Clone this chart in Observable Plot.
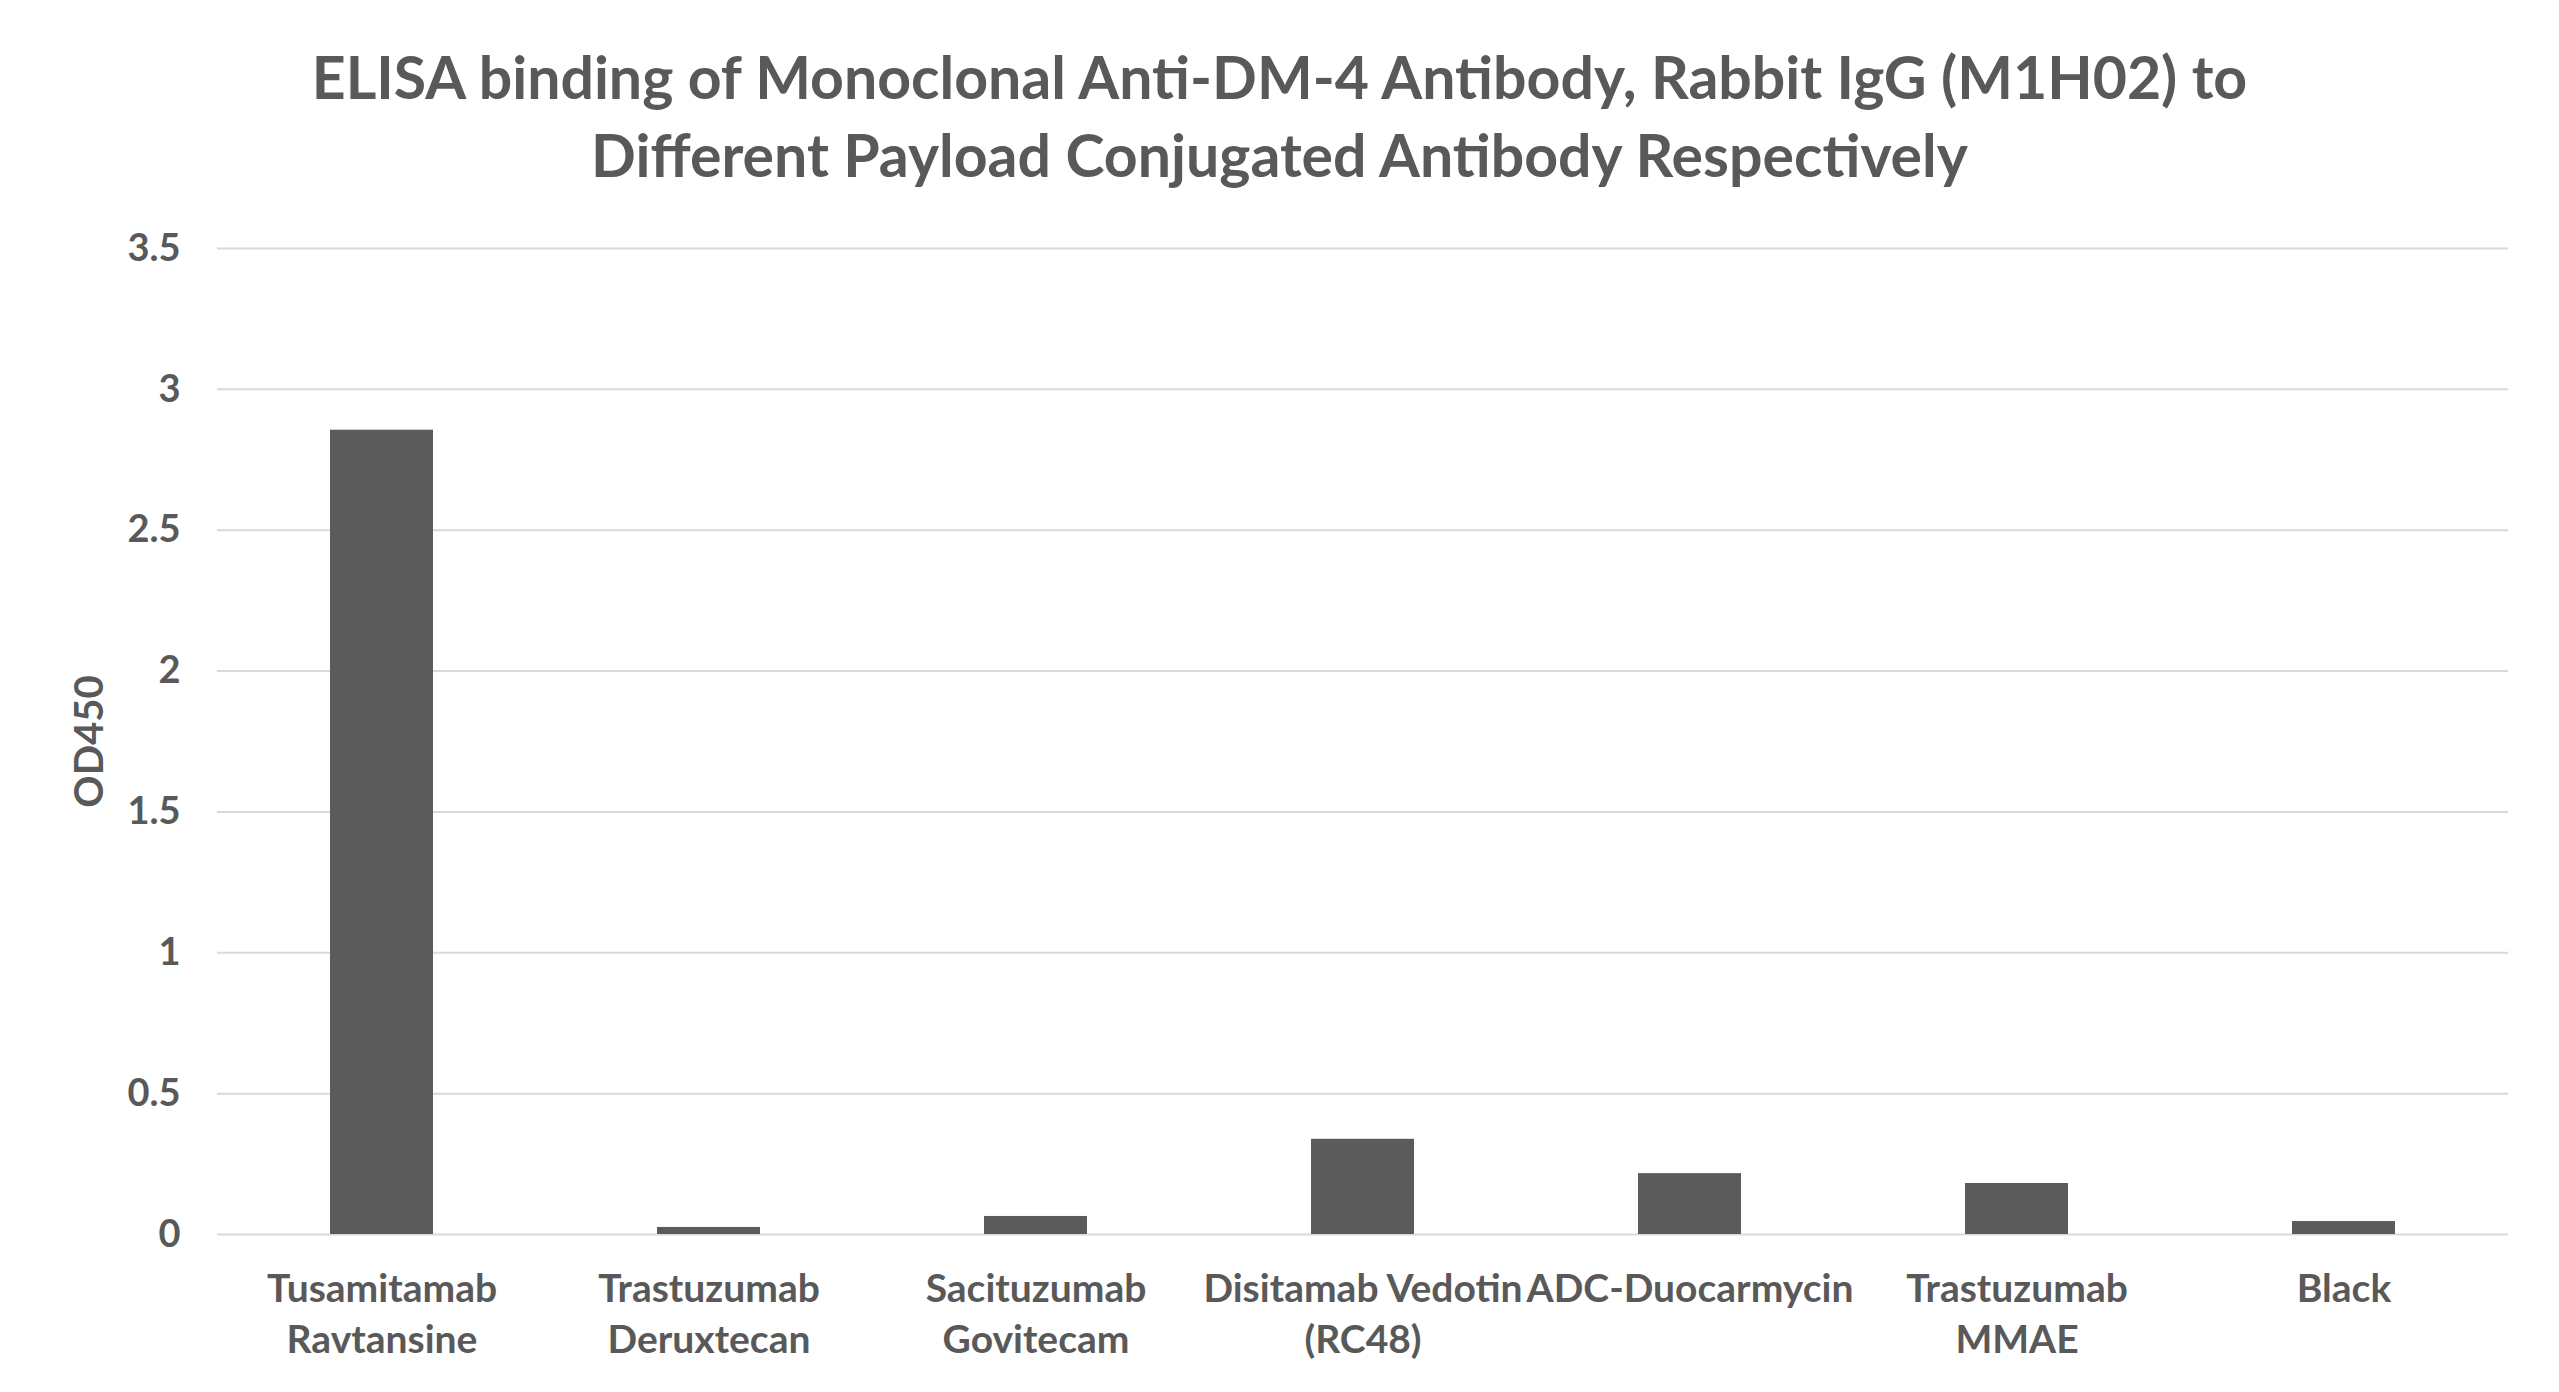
<!DOCTYPE html>
<html>
<head>
<meta charset="utf-8">
<script src="https://cdn.jsdelivr.net/npm/d3@7"></script>
<script src="https://cdn.jsdelivr.net/npm/@observablehq/plot@0.6"></script>
<style>
  html, body { margin: 0; padding: 0; background: #fff; }
  #chart { width: 2559px; }
  .title {
    font-family: Lato, "Open Sans", sans-serif;
    font-weight: 700;
    font-size: 59px;
    line-height: 78px;
    color: #595959;
    text-align: center;
    height: 200px;
    box-sizing: border-box;
    padding-top: 38px;
  }
  svg { display: block; }
</style>
</head>
<body>
<div id="chart">
  <div class="title">ELISA binding of Monoclonal Anti-DM-4 Antibody, Rabbit IgG (M1H02) to<br>Different Payload Conjugated Antibody Respectively</div>
</div>
<script>
// Samples tested
const categories = [
  "Tusamitamab Ravtansine",
  "Trastuzumab Deruxtecan",
  "Sacituzumab Govitecam",
  "Disitamab Vedotin (RC48)",
  "ADC-Duocarmycin",
  "Trastuzumab MMAE",
  "Black"
];

// Axis labels for each sample, wrapped over two lines
const tickLabels = [
  "Tusamitamab\nRavtansine",
  "Trastuzumab\nDeruxtecan",
  "Sacituzumab\nGovitecam",
  "Disitamab Vedotin\n(RC48)",
  "ADC-Duocarmycin",
  "Trastuzumab\nMMAE",
  "Black"
];

// Absorbance at 450 nm
const od450 = [2.855, 0.025, 0.064, 0.338, 0.216, 0.181, 0.046];

const yTicks = [0, 0.5, 1, 1.5, 2, 2.5, 3, 3.5];

const rows = categories.map((c, i) => ({sample: c, od: od450[i]}));
const labelOf = new Map(categories.map((c, i) => [c, tickLabels[i]]));

const textColor = "#595959";
const font = "Lato, 'Open Sans', sans-serif";

const chart = Plot.plot({
  width: 2559,
  height: 1192,
  marginTop: 48,
  marginBottom: 158,
  marginLeft: 217,
  marginRight: 51,
  style: {fontFamily: font, color: textColor, background: "#fff"},
  x: {domain: categories, paddingInner: 0.685, paddingOuter: 0.3425, label: null},
  y: {domain: [0, 3.5], label: null},
  marks: [
    Plot.gridY(yTicks, {stroke: "#d9d9d9", strokeOpacity: 1, strokeWidth: 2}),
    Plot.barY(rows, {x: "sample", y: "od", fill: "#5b5b5b"}),
    Plot.axisY(yTicks, {
      tickSize: 0,
      tickPadding: 37,
      fontSize: 38,
      fontWeight: 700,
      fill: textColor,
      tickFormat: d => String(d),
      label: null
    }),
    Plot.axisX({
      tickSize: 0,
      tickPadding: 31,
      fontSize: 39,
      fontWeight: 700,
      fill: textColor,
      lineHeight: 1.31,
      tickFormat: d => labelOf.get(d),
      label: null
    }),
    Plot.text(["OD450"], {
      frameAnchor: "left",
      dx: -127,
      rotate: -90,
      textAnchor: "middle",
      fontSize: 40,
      fontWeight: 700,
      fill: textColor
    })
  ]
});

document.getElementById("chart").appendChild(chart);
</script>
</body>
</html>
